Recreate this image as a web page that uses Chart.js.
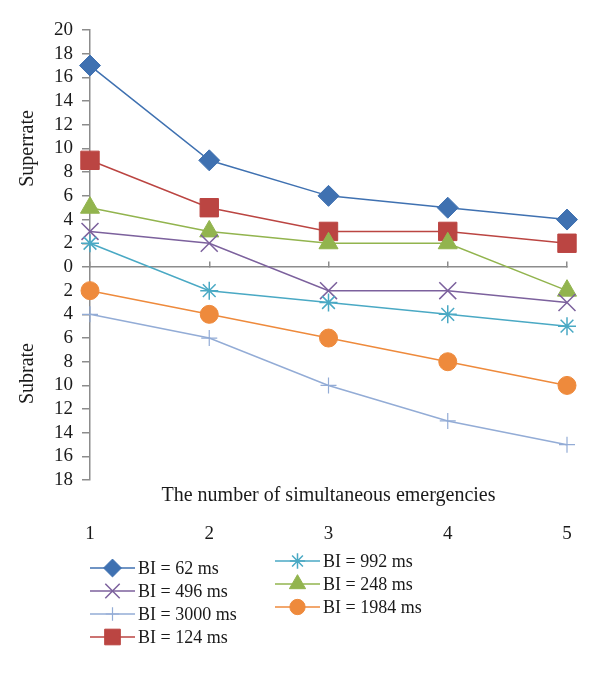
<!DOCTYPE html>
<html>
<head>
<meta charset="utf-8">
<script src="https://cdn.jsdelivr.net/npm/chart.js@4"></script>
<style>
  html, body { margin: 0; padding: 0; background: #fff; }
  #wrap { width: 600px; height: 675px; }
</style>
</head>
<body>
<div id="wrap"><canvas id="chart" width="600" height="675"></canvas></div>
<script>
// x categories: number of simultaneous emergencies
const emergencies = ['1', '2', '3', '4', '5'];
// superrate is positive, subrate negative (axis shows absolute values)
const bi62 = [17, 9, 6, 5, 4];
const bi124 = [9, 5, 3, 3, 2];
const bi248 = [5, 3, 2, 2, -2];
const bi496 = [3, 2, -2, -2, -3];
const bi992 = [2, -2, -3, -4, -5];
const bi1984 = [-2, -4, -6, -8, -10];
const bi3000 = [-4, -6, -10, -13, -15];
const yMin = -18, yMax = 20, yStep = 2;

const SERIF = '"Liberation Serif", "DejaVu Serif", serif';
const AXIS_GREY = '#8c8c8c';
const TEXT = '#1a1a1a';

function series(label, data, color, style, radius, width) {
  return {
    label, data,
    borderColor: color,
    backgroundColor: color,
    borderWidth: 1.5,
    pointStyle: style,
    pointRadius: radius,
    pointHoverRadius: radius,
    pointBorderWidth: width || 1,
    pointBackgroundColor: color,
    pointBorderColor: color,
    tension: 0,
    fill: false,
  };
}

const datasets = [
  series('BI = 3000 ms', bi3000, '#93acd6', 'cross', 8, 1.2),
  series('BI = 1984 ms', bi1984, '#ee8a3c', 'circle', 9),
  series('BI = 992 ms', bi992, '#4aa9c4', 'star', 9, 1.5),
  series('BI = 496 ms', bi496, '#7c619d', 'crossRot', 12, 1.5),
  series('BI = 248 ms', bi248, '#92b44e', 'triangle', 11),
  series('BI = 124 ms', bi124, '#bb4542', 'rect', 13),
  series('BI = 62 ms', bi62, '#3f71b1', 'rectRot', 10.5),
];

// legend layout: two columns as in the figure
const legendCols = [
  { x: 90, y: 568, items: ['BI = 62 ms', 'BI = 496 ms', 'BI = 3000 ms', 'BI = 124 ms'] },
  { x: 275, y: 561, items: ['BI = 992 ms', 'BI = 248 ms', 'BI = 1984 ms'] },
];

const sideTitles = {
  id: 'sideTitles',
  afterDraw(chart) {
    const ctx = chart.ctx;
    const y = chart.scales.y;
    ctx.save();
    ctx.fillStyle = TEXT;
    ctx.font = '20px ' + SERIF;
    ctx.textAlign = 'center';
    ctx.textBaseline = 'middle';
    [['Superrate', 10], ['Subrate', -9]].forEach(([t, v]) => {
      ctx.save();
      ctx.translate(28, y.getPixelForValue(v));
      ctx.rotate(-Math.PI / 2);
      ctx.fillText(t, 0, 0);
      ctx.restore();
    });
    ctx.restore();
  }
};

const colLegend = {
  id: 'colLegend',
  afterDraw(chart) {
    const ctx = chart.ctx;
    ctx.save();
    ctx.font = '18px ' + SERIF;
    ctx.textBaseline = 'middle';
    ctx.textAlign = 'left';
    legendCols.forEach(col => {
      col.items.forEach((name, i) => {
        const ds = chart.data.datasets.find(d => d.label === name);
        const cy = col.y + i * 23;
        ctx.strokeStyle = ds.borderColor;
        ctx.fillStyle = ds.borderColor;
        ctx.lineWidth = 1.5;
        ctx.beginPath();
        ctx.moveTo(col.x, cy);
        ctx.lineTo(col.x + 45, cy);
        ctx.stroke();
        ctx.lineWidth = ds.pointBorderWidth;
        Chart.helpers.drawPoint(ctx, {
          pointStyle: ds.pointStyle,
          radius: ds.pointRadius * 0.85,
          borderWidth: ds.pointBorderWidth,
          rotation: 0
        }, col.x + 22.5, cy);
        ctx.fillStyle = TEXT;
        ctx.fillText(name, col.x + 48, cy + 1);
      });
    });
    ctx.restore();
  }
};

new Chart(document.getElementById('chart'), {
  type: 'line',
  data: { labels: emergencies, datasets },
  options: {
    responsive: false,
    animation: false,
    layout: { padding: { left: 45, right: 33, top: 30, bottom: 120 } },
    plugins: {
      legend: { display: false },
      tooltip: { enabled: false }
    },
    scales: {
      y: {
        min: yMin, max: yMax,
        ticks: {
          stepSize: yStep,
          autoSkip: false,
          padding: 9,
          color: TEXT,
          font: { family: SERIF, size: 19, lineHeight: 1 },
          callback: v => Math.abs(v)
        },
        grid: { drawOnChartArea: false, drawTicks: true, tickLength: 8, color: AXIS_GREY, lineWidth: 1.5 },
        border: { color: AXIS_GREY, width: 1.5 }
      },
      xTitle: {
        type: 'category',
        position: 'bottom',
        weight: 0,
        offset: false,
        ticks: { display: false },
        grid: { display: false, drawTicks: false },
        border: { display: false },
        title: {
          display: true,
          text: 'The number of simultaneous emergencies',
          color: TEXT,
          font: { family: SERIF, size: 20 },
          padding: { top: 4, bottom: 4 }
        }
      },
      x: {
        type: 'category',
        position: 'bottom',
        weight: 1,
        offset: false,
        ticks: { color: TEXT, padding: 10, font: { family: SERIF, size: 19 } },
        grid: { display: false, drawTicks: false },
        border: { display: false }
      },
      xZero: {
        type: 'category',
        position: { y: 0 },
        offset: false,
        ticks: { display: false },
        grid: { drawOnChartArea: false, drawTicks: true, tickLength: -6, color: AXIS_GREY, lineWidth: 1.5 },
        border: { color: AXIS_GREY, width: 1.5 }
      }
    }
  },
  plugins: [sideTitles, colLegend]
});
</script>
</body>
</html>
